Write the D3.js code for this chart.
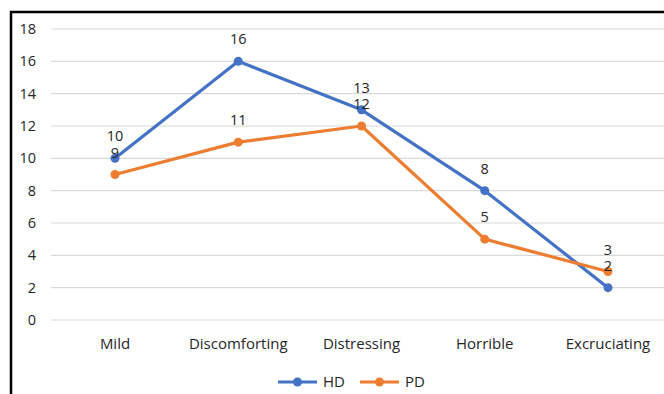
<!DOCTYPE html>
<html>
<head>
<meta charset="utf-8">
<script src="https://cdn.jsdelivr.net/npm/d3@7"></script>
<style>
  body { margin: 0; background: #fff; }
  svg text { font-family: "Open Sans", "Noto Sans", sans-serif; fill: #262626; }
</style>
</head>
<body>
<div id="chart"></div>
<script>
var categories = ["Mild", "Discomforting", "Distressing", "Horrible", "Excruciating"];
var hdValues = [10, 16, 13, 8, 2];
var pdValues = [9, 11, 12, 5, 3];
var yTicks = [0, 2, 4, 6, 8, 10, 12, 14, 16, 18];

var width = 664,
    height = 394;

var svg = d3.select("#chart").append("svg")
    .attr("width", width)
    .attr("height", height);

// outer frame (only left and top visible in the crop)
svg.append("rect")
    .attr("x", 11)
    .attr("y", 12)
    .attr("width", 700)
    .attr("height", 500)
    .attr("fill", "none")
    .attr("stroke", "#000")
    .attr("stroke-width", 2.5);

var x = d3.scalePoint()
    .domain(categories)
    .range([115, 608]);

var y = d3.scaleLinear()
    .domain([0, 18])
    .range([320, 29]);

// gridlines
svg.append("g")
    .selectAll("line")
    .data(yTicks)
    .enter().append("line")
    .attr("x1", 51)
    .attr("x2", width)
    .attr("y1", function(d) { return y(d); })
    .attr("y2", function(d) { return y(d); })
    .attr("stroke", "#d9d9d9")
    .attr("stroke-width", 1.2);

// y axis labels
svg.append("g")
    .selectAll("text")
    .data(yTicks)
    .enter().append("text")
    .attr("x", 36)
    .attr("y", function(d) { return y(d); })
    .attr("dy", "0.35em")
    .attr("text-anchor", "end")
    .style("font-size", "14.5px")
    .text(function(d) { return d; });

// category labels
svg.append("g")
    .selectAll("text")
    .data(categories)
    .enter().append("text")
    .attr("x", function(d) { return x(d); })
    .attr("y", 344)
    .attr("dy", "0.35em")
    .attr("text-anchor", "middle")
    .style("font-size", "15px")
    .text(function(d) { return d; });

var series = [
    {name: "HD", values: hdValues, color: "#4472C4"},
    {name: "PD", values: pdValues, color: "#ED7D31"}
];

var line = d3.line()
    .x(function(d, i) { return x(categories[i]); })
    .y(function(d) { return y(d); });

series.forEach(function(s) {
    svg.append("path")
        .datum(s.values)
        .attr("d", line)
        .attr("fill", "none")
        .attr("stroke", s.color)
        .attr("stroke-width", 3.2)
        .attr("stroke-linejoin", "round");

    svg.append("g")
        .selectAll("circle")
        .data(s.values)
        .enter().append("circle")
        .attr("cx", function(d, i) { return x(categories[i]); })
        .attr("cy", function(d) { return y(d); })
        .attr("r", 4.5)
        .attr("fill", s.color);
});

// data labels (drawn after lines, like Excel)
series.forEach(function(s) {
    svg.append("g")
        .selectAll("text")
        .data(s.values)
        .enter().append("text")
        .attr("x", function(d, i) { return x(categories[i]); })
        .attr("y", function(d) { return y(d) - 22; })
        .attr("dy", "0.35em")
        .attr("text-anchor", "middle")
        .style("font-size", "14.5px")
        .text(function(d) { return d; });
});

// legend
var legend = svg.append("g")
    .selectAll("g")
    .data(series)
    .enter().append("g")
    .attr("transform", function(d, i) { return "translate(" + (278 + i * 82) + ",382)"; });

legend.append("line")
    .attr("x1", 0)
    .attr("x2", 39)
    .attr("stroke", function(d) { return d.color; })
    .attr("stroke-width", 3.2);

legend.append("circle")
    .attr("cx", 19.5)
    .attr("r", 4.5)
    .attr("fill", function(d) { return d.color; });

legend.append("text")
    .attr("x", 45)
    .attr("dy", "0.35em")
    .style("font-size", "15px")
    .text(function(d) { return d.name; });
</script>
</body>
</html>
